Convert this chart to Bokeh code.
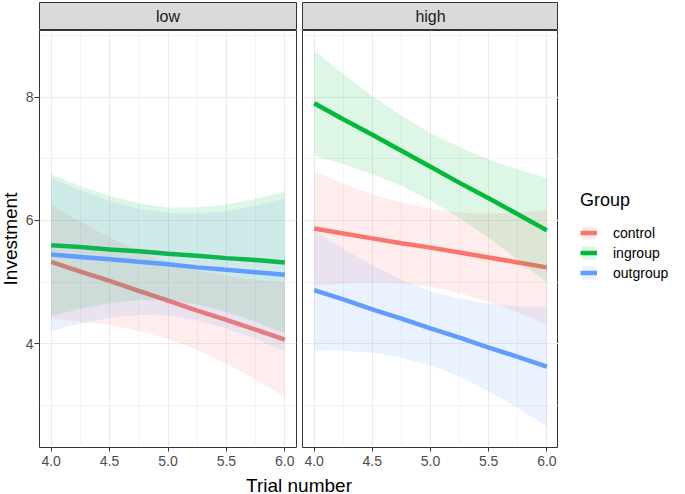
import math
from bokeh.plotting import figure
from bokeh.models import Range1d, FixedTicker, Legend, LegendItem, Label
from bokeh.layouts import row, column
from bokeh.embed import file_html
from bokeh.resources import INLINE

FONT = "Liberation Sans"

panels = ["low", "high"]
groups = ["control", "ingroup", "outgroup"]
colors = ["#F8766D", "#00BA38", "#619CFF"]
trial = [4.0, 4.25, 4.5, 4.75, 5.0, 5.25, 5.5, 5.75, 6.0]

x_ticks = [4.0, 4.5, 5.0, 5.5, 6.0]
x_tick_labels = ["4.0", "4.5", "5.0", "5.5", "6.0"]
x_minor = [4.25, 4.75, 5.25, 5.75]
y_ticks = [4, 6, 8]
y_tick_labels = ["4", "6", "8"]
y_minor = [3, 5, 7, 9]

# panel "low"
low_control_fit = [5.33, 5.17, 5.02, 4.86, 4.70, 4.54, 4.39, 4.23, 4.07]
low_control_upper = [6.26, 5.98, 5.73, 5.50, 5.32, 5.19, 5.10, 5.04, 5.00]
low_control_lower = [4.40, 4.36, 4.31, 4.21, 4.08, 3.90, 3.68, 3.42, 3.14]
low_ingroup_fit = [5.60, 5.57, 5.53, 5.50, 5.46, 5.43, 5.39, 5.36, 5.32]
low_ingroup_upper = [6.75, 6.56, 6.40, 6.28, 6.21, 6.21, 6.26, 6.35, 6.47]
low_ingroup_lower = [4.45, 4.57, 4.66, 4.71, 4.71, 4.64, 4.52, 4.36, 4.17]
low_outgroup_fit = [5.45, 5.41, 5.37, 5.33, 5.29, 5.24, 5.20, 5.16, 5.12]
low_outgroup_upper = [6.69, 6.49, 6.32, 6.19, 6.12, 6.11, 6.15, 6.24, 6.36]
low_outgroup_lower = [4.21, 4.33, 4.42, 4.47, 4.46, 4.38, 4.25, 4.08, 3.88]

# panel "high"
high_control_fit = [5.87, 5.79, 5.71, 5.63, 5.56, 5.48, 5.40, 5.32, 5.24]
high_control_upper = [6.80, 6.60, 6.43, 6.29, 6.19, 6.13, 6.11, 6.13, 6.17]
high_control_lower = [4.94, 4.98, 5.00, 4.98, 4.93, 4.82, 4.68, 4.51, 4.31]
high_ingroup_fit = [7.90, 7.64, 7.39, 7.13, 6.87, 6.61, 6.36, 6.10, 5.84]
high_ingroup_upper = [8.75, 8.38, 8.02, 7.70, 7.42, 7.19, 6.99, 6.83, 6.69]
high_ingroup_lower = [7.05, 6.91, 6.75, 6.56, 6.32, 6.04, 5.72, 5.36, 4.99]
high_outgroup_fit = [4.87, 4.72, 4.56, 4.41, 4.25, 4.10, 3.94, 3.79, 3.63]
high_outgroup_upper = [5.84, 5.54, 5.27, 5.04, 4.85, 4.73, 4.65, 4.61, 4.60]
high_outgroup_lower = [3.90, 3.89, 3.85, 3.78, 3.65, 3.47, 3.23, 2.96, 2.66]

series = {
    "low": [
        (low_control_fit, low_control_lower, low_control_upper),
        (low_ingroup_fit, low_ingroup_lower, low_ingroup_upper),
        (low_outgroup_fit, low_outgroup_lower, low_outgroup_upper),
    ],
    "high": [
        (high_control_fit, high_control_lower, high_control_upper),
        (high_ingroup_fit, high_ingroup_lower, high_ingroup_upper),
        (high_outgroup_fit, high_outgroup_lower, high_outgroup_upper),
    ],
}

x_lo, x_hi = 3.9, 6.1
y_lo, y_hi = 2.32, 9.08

W_YLAB, W1, W2, WL = 20, 279, 259, 127
H_STRIP, H_PANEL, H_CAP = 30, 441, 23
FRAME_COLOR = "#333333"
RIBBON_ALPHA = 0.13
LINE_W = 4.5


def bare_figure(width, height, xr, yr, **borders):
    f = figure(width=width, height=height, x_range=xr, y_range=yr,
               toolbar_location=None, output_backend="svg",
               x_axis_location=None, y_axis_location=None, **borders)
    f.grid.visible = False
    f.outline_line_color = None
    f.background_fill_color = "white"
    f.border_fill_color = "white"
    return f


def make_strip(name, width, left, right):
    s = bare_figure(width, H_STRIP, Range1d(0, 1), Range1d(0, 1),
                    min_border_left=left, min_border_right=right,
                    min_border_top=2, min_border_bottom=0)
    s.outline_line_color = FRAME_COLOR
    s.outline_line_width = 1
    s.background_fill_color = "#D9D9D9"
    s.add_layout(Label(x=0.5, y=0.5, text=name, text_align="center", text_baseline="middle",
                       text_font=FONT, text_font_size="16px", text_color="#1A1A1A"))
    return s


def make_panel(name, width, left, right, show_y):
    p = figure(width=width, height=H_PANEL, x_range=Range1d(x_lo, x_hi),
               y_range=Range1d(y_lo, y_hi), toolbar_location=None, output_backend="svg",
               min_border_left=left, min_border_right=right,
               min_border_top=0, min_border_bottom=24)
    p.background_fill_color = "white"
    p.border_fill_color = "white"
    p.outline_line_color = FRAME_COLOR
    p.outline_line_width = 1

    p.xaxis.ticker = FixedTicker(ticks=x_ticks, minor_ticks=x_minor)
    p.xaxis.major_label_overrides = dict(zip(x_ticks, x_tick_labels))
    p.yaxis.ticker = FixedTicker(ticks=y_ticks, minor_ticks=y_minor)
    p.yaxis.major_label_overrides = dict(zip(y_ticks, y_tick_labels))
    for ax in (p.xaxis, p.yaxis):
        ax.axis_line_color = None
        ax.major_tick_line_color = FRAME_COLOR
        ax.major_tick_in = 0
        ax.minor_tick_in = 0
        ax.minor_tick_out = 0
        ax.major_label_text_font = FONT
        ax.major_label_text_font_size = "14px"
        ax.major_label_text_color = "#4D4D4D"
    p.xaxis.major_tick_out = 4
    p.xaxis.major_label_standoff = 4
    p.yaxis.major_tick_out = 5
    p.yaxis.major_label_standoff = 1
    if not show_y:
        p.yaxis.visible = False

    for g in (p.xgrid, p.ygrid):
        g.grid_line_color = "#EBEBEB"
        g.grid_line_width = 1
        g.minor_grid_line_color = "#EBEBEB"
        g.minor_grid_line_width = 0.6

    for color, (fit, lower, upper) in zip(colors, series[name]):
        p.varea(x=trial, y1=lower, y2=upper, fill_color=color, fill_alpha=RIBBON_ALPHA)
        p.line(x=trial, y=fit, line_color=color, line_width=LINE_W)
    return p


strip1 = make_strip(panels[0], W_YLAB + W1, 39, 3)
strip2 = make_strip(panels[1], W2, 3, 0)

# y axis title column
ylab = bare_figure(W_YLAB, H_PANEL, Range1d(0, W_YLAB), Range1d(0, 1),
                   min_border_left=0, min_border_right=0, min_border_top=0,
                   min_border_bottom=24)
ylab.add_layout(Label(x=10, y=0.5, text="Investment", angle=math.pi / 2,
                      text_align="center", text_baseline="middle", text_font=FONT,
                      text_font_size="19px", text_color="black"))

p1 = make_panel(panels[0], W1, 39 - W_YLAB, 3, True)
p2 = make_panel(panels[1], W2, 3, 0, False)

# legend column: keys drawn by hidden copies of the "high" series
lf = bare_figure(WL, H_PANEL, Range1d(x_lo, x_hi), Range1d(y_lo, y_hi),
                 min_border_left=0, min_border_right=0, min_border_top=0,
                 min_border_bottom=24)
items = []
for g, color, (fit, lower, upper) in zip(groups, colors, series["high"]):
    rb = lf.varea(x=trial, y1=lower, y2=upper, fill_color=color, fill_alpha=RIBBON_ALPHA,
                  visible=False)
    rl = lf.line(x=trial, y=fit, line_color=color, line_width=LINE_W, visible=False)
    items.append(LegendItem(label=g, renderers=[rb, rl]))

legend = Legend(
    items=items, location=(22, 166), orientation="vertical",
    title="Group", title_text_font=FONT, title_text_font_size="18px",
    title_text_font_style="normal", title_text_color="black", title_standoff=13,
    label_text_font=FONT, label_text_font_size="14px", label_text_color="black",
    glyph_width=17, glyph_height=17, spacing=3, label_standoff=16,
    padding=0, margin=0, border_line_color=None, background_fill_alpha=0,
)
lf.add_layout(legend)

W_ALL = W_YLAB + W1 + W2 + WL
cap = bare_figure(W_ALL, H_CAP, Range1d(0, W_ALL), Range1d(0, H_CAP), min_border=0)
cap.add_layout(Label(x=298.5, y=9.5, text="Trial number", text_align="center",
                     text_baseline="middle", text_font=FONT, text_font_size="19px",
                     text_color="black"))

layout = column(row(strip1, strip2), row(ylab, p1, p2, lf), cap)

open("out.html", "w").write(file_html(layout, INLINE))
